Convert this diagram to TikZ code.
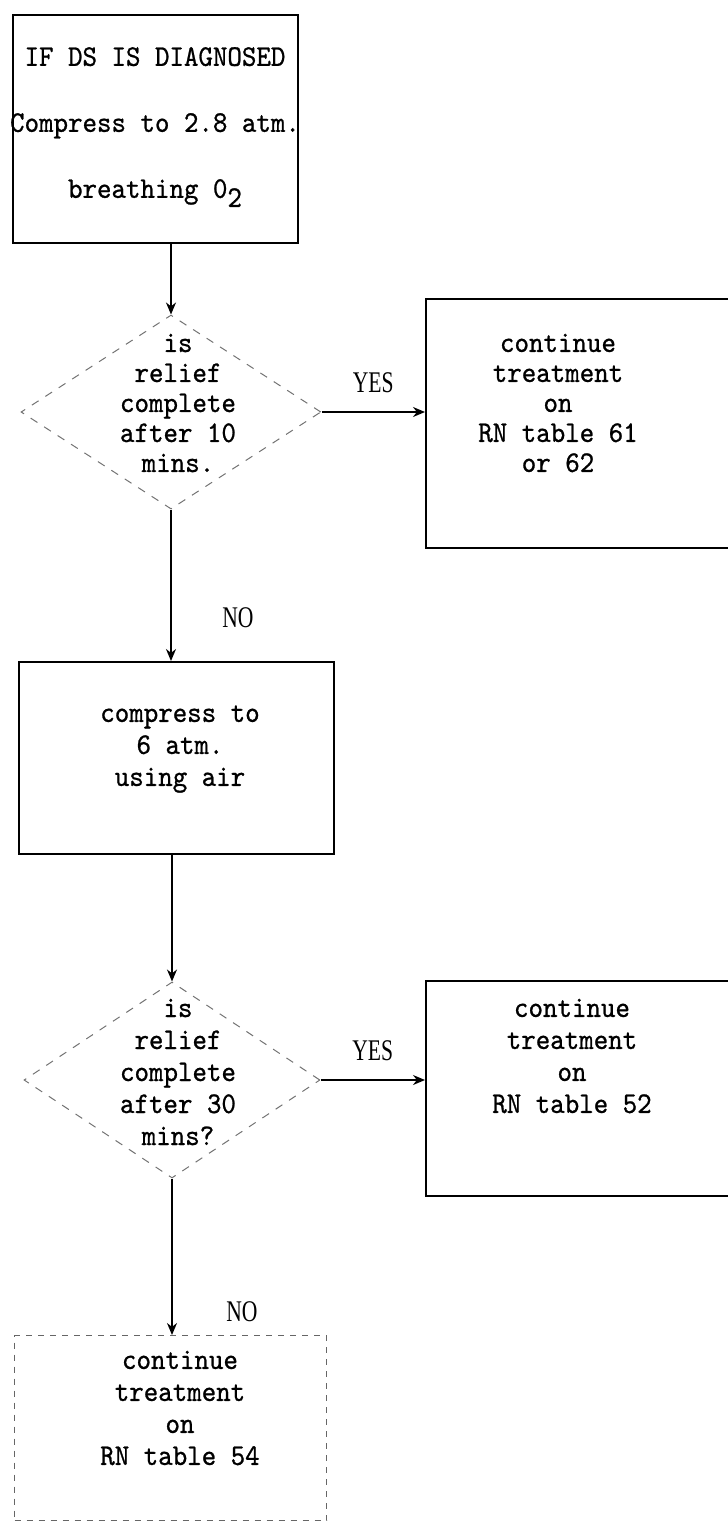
\documentclass[tikz,border=0pt]{standalone}
\usepackage{fontspec}
\usetikzlibrary{shapes.geometric,arrows.meta}
\newfontfamily\tw{lmmono10-regular.otf}[FakeStretch=0.92,FakeBold=0.8]
\newfontfamily\lbl{Liberation Serif}[FakeStretch=0.72]
\begin{document}
\begin{tikzpicture}[x=0.5pt,y=-0.5pt,
  box/.style={draw, line width=0.75pt, inner sep=0pt, anchor=north west},
  faintbox/.style={draw=black!60, line width=0.6pt, dash pattern=on 3pt off 3pt, inner sep=0pt, anchor=north west},
  dia/.style={diamond, draw=black!55, line width=0.5pt, dash pattern=on 4pt off 4pt, inner sep=0pt},
  txt/.style={align=center, inner sep=0pt, font=\tw\fontsize{15}{#1}\selectfont},
  lab/.style={inner sep=0pt, font=\lbl\fontsize{15}{15}\selectfont},
  arr/.style={-{Stealth[length=6pt,width=5pt]}, line width=0.75pt}]
\useasboundingbox (0,0) rectangle (728,1522);

% boxes
\node[box, minimum width=142.5pt, minimum height=114pt] (b1) at (12,14) {};
\node[box, minimum width=155pt, minimum height=124.5pt] (b2) at (425,298) {};
\node[box, minimum width=157.5pt, minimum height=96pt] (b3) at (18,661) {};
\node[box, minimum width=155pt, minimum height=107.5pt] (b4) at (425,980) {};
\node[faintbox, minimum width=156pt, minimum height=92.5pt] (b5) at (14,1335) {};

% decisions
\node[dia, minimum width=150pt, minimum height=97pt] (d1) at (171,412) {};
\node[dia, minimum width=148pt, minimum height=98pt] (d2) at (172,1080) {};

% texts
\node[txt=33pt] (t1) at (155,127) {IF DS IS DIAGNOSED\\Compress to 2.8 atm.\\breathing 0\raisebox{-0.7ex}{2}};
\node[txt=15pt] (td1) at (178,403) {is\\relief\\complete\\after 10\\mins.};
\node[txt=15pt] (t2) at (558,403) {continue\\treatment\\on\\RN table 61\\or 62};
\node[txt=16pt] (t3) at (180,749) {compress to\\6 atm.\\using air};
\node[txt=16pt] (td2) at (178,1072) {is\\relief\\complete\\after 30\\mins?};
\node[txt=16pt] (t4) at (572,1056) {continue\\treatment\\on\\RN table 52};
\node[txt=16pt] (t5) at (180,1408) {continue\\treatment\\on\\RN table 54};

% labels
\node[lab] (no1) at (238,618) {NO};
\node[lab] (no2) at (242,1312) {NO};

% connectors
\draw[arr] (d1.north |- b1.south) -- (d1.north);
\draw[arr] (d1.east) -- node[lab, above=9pt] (yes1) {YES} (d1.east -| b2.west);
\draw[arr] (d1.south) -- (d1.south |- b3.north);
\draw[arr] (d2.north |- b3.south) -- (d2.north);
\draw[arr] (d2.east) -- node[lab, above=9pt] (yes2) {YES} (d2.east -| b4.west);
\draw[arr] (d2.south) -- (d2.south |- b5.north);
\end{tikzpicture}
\end{document}
